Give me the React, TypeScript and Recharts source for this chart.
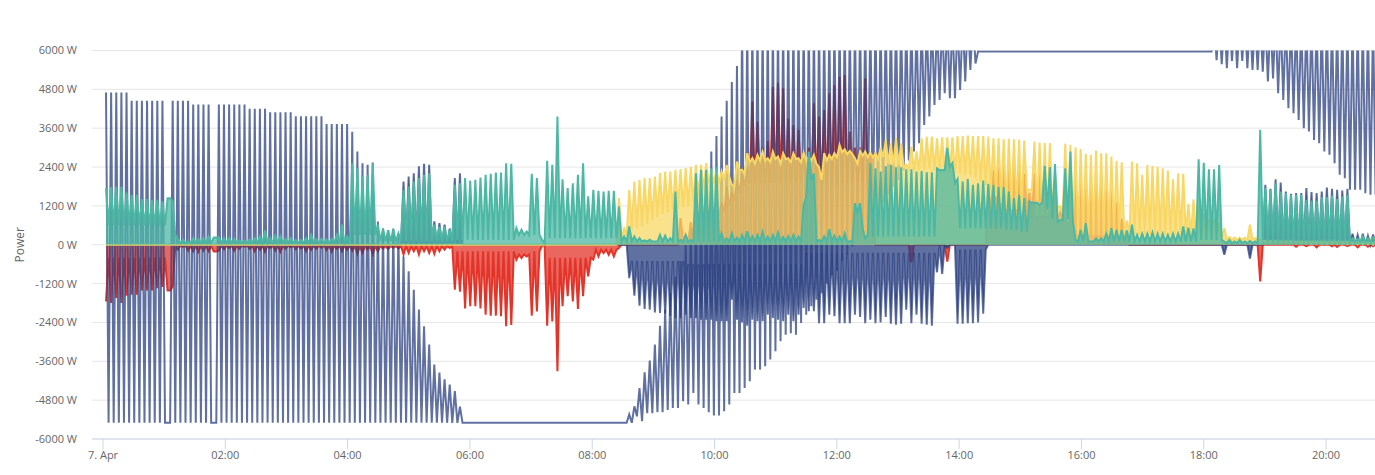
import React from "react";
import { ComposedChart, Area, XAxis, YAxis, CartesianGrid } from "recharts";

const rep = (v: number, n: number): number[] => Array(n).fill(v);

const xTicks = [0, 120, 240, 360, 480, 600, 720, 840, 960, 1080, 1200];
const xLabels = ["7. Apr", "02:00", "04:00", "06:00", "08:00", "10:00", "12:00", "14:00", "16:00", "18:00", "20:00"];
const yTicks = [-6000, -4800, -3600, -2400, -1200, 0, 1200, 2400, 3600, 4800, 6000];

const aPeak = [
  ...rep(4700, 5), ...rep(4450, 7), -5500, ...rep(4450, 4), ...rep(4330, 4), -5500, ...rep(4330, 6), ...rep(4200, 4), ...rep(4090, 5), ...rep(3970, 6), ...rep(3730, 5),
  3490, 2880, 2520, 2470, 2540, 720, 500, 450, 500, 350,
  -360, -820, -1390, -2000, -2520, -3080, -3700, -3950, -4160, -4320, -4520, -5000,
  ...rep(-5500, 32),
  -5240, -4990, -4430, -3940, -3580, -3080, -2500, -2000, -1500, -1000, -500, 0, 500, 1000, 1500, 2300, 2880, 3360, 3960, 4450, 5030, 5520,
  ...rep(7000, 46), ...rep(5970, 46), ...rep(7000, 32),
];
const aTrough = [
  ...rep(-5500, 102),
  -5500, -5300, -5450, -5200, -5200, -5170, -5174, -5100, -5040, -5040, -4835, -4937, -4577, -4937, -5040, -5174, -5276, -5276, -5142, -4937, -4577, -4577,
  -4422, -4217, -3857, -3857, -3754, -3548, -3291, -2983, -2777, -2730, -2777, -2415, -2160, -1900, -1700, -1500, -1200, -950, -800, -500, -300, -50,
  200, 400, 700, 900, 1150, 1300, 1550, 1800, 2000, 2300, 2600, 2880, 3137, 3700, 3960, 4320, 4470, 4680, 4525, 4525, 4780, 5040, 5400, 5600,
  ...rep(5970, 46),
  5700, 5580, 5450, 5680, 5450, 5680, 5450, 5400, 5400, 5347, 5040, 5140, 4680, 4470, 4215, 4060, 3857, 3600, 3497, 3240, 3137, 2880, 2777, 2520, 2160, 2057, 1697, 1697, 1697, 1595, 1543, 1543,
];

const bPeak = [
  ...rep(0, 58),
  1950, 2110, 2210, 2420, 2500, 2470, 720, 670, 620, 500, 2060, 2210,
  ...rep(0, 32),
  -1030, -1575, -1880, -1985, -2005, -2090, -2110, -2130, -2200, -2260, -2260, -2160, -2260, -2260, -2315, -2315, -2315, -2365, -2365, -2365, -1700, -2315, -2400, -2500, -2315, -2365, -2365, -2160, -2260, -2315, -2365, -2160, -2365, -2160, -1950, -2055,
  -2055, -2420, -2420, -2160, -2210, -2420, -2420, -2420, -2160, -2230, -2420, -2315, -2420, -2400, -2230, -2440, -2470, -2440, -2005, -2420, -2160, -2440, -2470, -2500, -850, -900, -100, 0, -2440, -2440, -2420, -2420, -2400, -2130,
  ...rep(0, 46), -310, ...rep(0, 4), -430, 0, 0,
  1850, 1727, 2025, 1923, 1645, 1573, 1594, 1594, 1748, 1625, 1594, 1645, 1768, 1727, 1697, 1676, 1727,
  340, 300, 340, 280, 320,
];
const bTrough = [
  ...rep(0, 102), ...rep(-500, 11), ...rep(-600, 23), ...rep(-250, 26), ...rep(0, 4), ...rep(-150, 6), ...rep(0, 76),
];

const redPeak = [
  -1750, -1800, -1645, -1800, -1575, -1540, -1540, -1410, -1410, -1410, -1340, -1300, -1410, -1285,
  -150, -60, -180, -200, -220, -180, -200, -207, -180, -140, -100, -180, -120, -60, -120, -200, -150, -220, -100, -180, -220, -120, -80, -140, -110, -200, -150, -120, -90, -160, -220, -120, -200, -150,
  -180, -280, -250, -150, -300, -200, -120, -130, -100, -120,
  -300, -250, -200, -300, -200, -250, -280, -200, -150, -100,
  -1388, -1450, -1970, -1900, -1900, -1970, -2160, -2190, -2190, -2210, -2520, -2480, -460, -410, -360, -2190, -2057, -30, -2500, -2370, -3910, -1900, -1590, -1750, -1985, -1590, -975, -460, -360, -257, -310, -360, -100, 0,
  ...rep(0, 10),
  820, 100, 700, 1500, 1500, 1400, 1400, 1300, 1300, 1800, 1600, 2000, 2200, 2400,
  4420, 3800, 3000, 3200, 4880, 5000, 4835, 3900, 3700, 3550, 2900, 3000, 4370, 3960, 4160, 4680, 4935, 5190, 5240, 3497, 3000, 3000, 5140, 2800,
  ...rep(0, 7), -550, ...rep(0, 6), -520, ...rep(0, 7),
  1800, 2300, 2400, 2500, 2500, 2500, 2300, 2200, 1600, 2200, 2200, 2100, 2000, 1500, 1000, 2000, 2000, 1900, 1900, 1800, 1800, 1900, 1800, 1700, 1700, 1300, 800, 300,
  ...rep(0, 25), -1130, ...rep(0, 6),
  -60, 0, -40, 0, -80, 0, 0, -50, -70, 0, -40, 0, -80, 0, -60, -50,
];
const redTrough = [
  ...rep(-400, 12), -1410, -60, ...rep(-30, 7), -207, ...rep(-30, 26), ...rep(-40, 20), ...rep(-200, 12), ...rep(-300, 3), -200, -200, 0, ...rep(-400, 9), ...rep(-150, 5), ...rep(0, 12),
  100, 100, 200, 500, 800, 800, 900, 900, 1000, 1200, 1400, 1600, 1800, 1900,
  ...rep(1900, 24), ...rep(0, 22), ...rep(1000, 8), ...rep(800, 8), ...rep(600, 8), 400, 300, 200, 0, ...rep(0, 48),
];

const yellowPeak = [
  ...rep(0, 100), 1440, 500,
  1696, 1953, 2005, 2057, 2057, 2108, 2211, 2262, 2262, 2314, 2334, 2365, 2416, 2468, 2468, 2519, 2314, 2314, 2262, 2468, 1851, 2571, 2314, 2828, 2674, 2776, 2879, 2674, 2879, 2725, 2828, 2674, 2828, 2674, 2848, 2725,
  2776, 2400, 2828, 2776, 2828, 3085, 2950, 2900, 2674, 2900, 2880, 2840, 2830, 3000, 3240, 3130, 3300, 3130, 2470, 3030, 2880, 3290, 3340, 3340, 3290, 3320, 3320, 3320, 3360, 3360, 3370, 3360, 3360, 3360, 3340,
  3290, 3290, 3260, 3270, 3260, 3240, 3220, 1700, 3190, 3160, 3140, 3140, 2200, 1180, 3115, 3085, 3013, 2960, 2806, 2776, 2910, 2828, 2828, 2725, 2590, 2550, 740,
  2570, 2520, 2160, 2468, 2437, 2416, 2365, 2293, 2025, 2211, 2190, 1264, 1400, 1200, 1000, 800, 800, 700, 520, 240, 220, 220, 220, 620, 200, 150,
  100, 90, 100, 80, 70, 80, 60, 60, 50, 40, 50, 40, 30, 40, 30, 30, 20, 30, 20, 30, 20, 10,
];
const yellowTrough = [
  ...rep(0, 100), 200, 300,
  462, 500, 565, 650, 770, 850, 950, 1000, 1080, 1100, 1150, 1180, 1300, 1500, 1700, 1900, 1900, 1900, 2000, 2100, 1800, 2300, 2200, 2550, 2500, 2600, 2600, 2550, 2650, 2500, 2650, 2550, 2650, 2550, 2600, 2600,
  2500, 2000, 2600, 2650, 2700, 2850, 2800, 2800, 2500, 2750, 2700, 2700,
  2650, 2700, 2500, 2450, 2450, 2400, 2350, 2300, 2300, 2300, 2350, 2300, 2300, 2300, 2250, 2200, 2200, 2150, 2150, 2050, 1950, 1850, 1700,
  1500, 1300, 1100, 1100, 1100, 1000, 1700, 1700, 900, 900, 900, 1000, 1180, 1000, 700, 500, 300, 300, 300, 300, 300, 300, 300, 300, 300, 300, 300,
  ...rep(300, 12), ...rep(150, 36),
];

const tealPeak = [
  1750, 1780, 1800, 1800, 1615, 1540, 1540, 1410, 1410, 1390, 1390, 1340, 1440, 1340,
  180, 150, 100, 205, 180, 205, 250, 225, 225, 205, 205, 180, 130, 130, 160, 205, 250, 440, 205, 280, 260, 180, 200, 140, 150, 200, 300, 170, 180, 160, 180, 300, 620, 250,
  2520, 2365, 2110, 2160, 2520, 620, 500, 450, 480, 350, 1700, 1800, 1950, 2060, 2160, 2210, 620, 560, 560, 450, 1850, 1900,
  2057, 1985, 2005, 2077, 2160, 2190, 2230, 2230, 2520, 2500, 514, 463, 411, 2190, 2057, 154, 2590, 2468, 3960, 2025, 1750, 1900, 2160, 2520, 1500, 1700, 1665, 1645, 1665, 1665, 1183, 257, 565,
  257, 205, 134, 154, 103, 308, 277, 205, 1645, 150, 308, 150, 2211, 2314, 2314, 2360, 2416, 350, 200, 360, 220, 300, 420, 260, 300, 400, 250, 300, 380, 240, 260, 300, 250,
  1230, 2880, 2200, 150, 260, 480, 280, 250, 350, 110, 1280, 1280, 200,
  2520, 2360, 2260, 2420, 2470, 2390, 2390, 2330, 2330, 2260, 2280, 2240, 2240, 2360, 2310, 2990, 2520, 2030, 1950, 2030, 1850, 1900, 1985, 1880,
  1850, 1780, 1780, 1640, 1440, 1540, 1440, 1340, 1300, 1230, 2440, 2400, 2490, 770, 2360, 2880, 150, 460, 670, 100, 200, 205, 340, 515, 460, 460, 440, 620, 310, 340, 340, 380, 340, 340, 310, 340, 340, 565, 530, 500,
  2640, 2535, 2330, 2330, 2460, 100, 150, 100, 150, 100, 120, 100, 3550,
  1748, 1697, 1902, 1645, 1594, 1543, 1543, 1543, 1388, 1367, 1367, 1470, 1470, 1522, 1409, 1491, 1543,
  200, 180, 250, 200, 230,
];
const tealTrough = [
  ...rep(600, 12), 1440, 300, ...rep(60, 7), 225, ...rep(60, 26), ...rep(300, 5), ...rep(100, 15), ...rep(150, 12), ...rep(300, 5), 50, ...rep(200, 14), ...rep(100, 36),
  1500, 2000, 100, ...rep(100, 7), 1000, 500, 300, ...rep(250, 13), 2300, 2300, 2400, 1900, ...rep(500, 9),
  450, 450, 450, 400, 400, 1300, 1300, 1300, 1100, 800, 700, 750, 800, 700, 100, ...rep(100, 23), ...rep(150, 5), ...rep(50, 7), 150, ...rep(100, 17), ...rep(100, 5),
];

const startMinute = 2.94;
const cycleMinutes = 5.033;
const cycleIndex = aPeak.map((_, i) => i);
const rows = cycleIndex.flatMap((i) => [
  { t: startMinute + i * cycleMinutes, a: aPeak[i], b: bPeak[i], red: redPeak[i], yellow: yellowPeak[i] ?? 0, teal: tealPeak[i] ?? 0 },
  { t: startMinute + (i + 0.5) * cycleMinutes, a: aTrough[i], b: bTrough[i], red: redTrough[i], yellow: yellowTrough[i] ?? 0, teal: tealTrough[i] ?? 0 },
]);

const font = "'Open Sans', sans-serif";

export default function App() {
  return (
    <div style={{ position: "absolute", left: 0, top: 0, width: 1375, height: 475, fontFamily: font }}>
      <ComposedChart width={1375} height={475} data={rows} margin={{ top: 50.5, right: 0, bottom: 0, left: 0 }}>
        <CartesianGrid horizontal vertical={false} stroke="#e6e6e6" strokeWidth={1} />
        <XAxis
          type="number"
          dataKey="t"
          domain={[-10.8, 1248]}
          ticks={xTicks}
          allowDataOverflow
          height={36}
          stroke="#ccd6eb"
          tickSize={10}
          tickMargin={2}
          tick={{ fill: "#666666", fontSize: 11, fontFamily: font }}
          tickFormatter={(v: number) => xLabels[xTicks.indexOf(v)]}
        />
        <YAxis
          type="number"
          domain={[-6000, 6000]}
          ticks={yTicks}
          allowDataOverflow
          width={92}
          axisLine={false}
          tickLine={false}
          tickSize={0}
          tickMargin={15}
          tick={{ fill: "#666666", fontSize: 11, fontFamily: font }}
          tickFormatter={(v: number) => `${v} W`}
          label={{ value: "Power", angle: -90, position: "insideLeft", offset: 20, style: { fill: "#666666", fontSize: 12, fontFamily: font, textAnchor: "middle" } }}
        />
        <Area type="linear" dataKey="red" baseValue={0} stroke="#e3342a" strokeWidth={2} fill="#e3342a" fillOpacity={0.75} isAnimationActive={false} dot={false} activeDot={false} />
        <Area type="linear" dataKey="b" baseValue={0} stroke="#2b4080" strokeOpacity={0.75} strokeWidth={2} fill="#2b4080" fillOpacity={0.75} isAnimationActive={false} dot={false} activeDot={false} />
        <Area type="linear" dataKey="a" baseValue={0} stroke="#2b4080" strokeOpacity={0.75} strokeWidth={2} fill="none" isAnimationActive={false} dot={false} activeDot={false} />
        <Area type="linear" dataKey="yellow" baseValue={0} stroke="#f8d765" strokeWidth={2} fill="#f8d765" fillOpacity={0.75} isAnimationActive={false} dot={false} activeDot={false} />
        <Area type="linear" dataKey="teal" baseValue={0} stroke="#4cb8a4" strokeWidth={2} fill="#4cb8a4" fillOpacity={0.75} isAnimationActive={false} dot={false} activeDot={false} />
      </ComposedChart>
    </div>
  );
}
